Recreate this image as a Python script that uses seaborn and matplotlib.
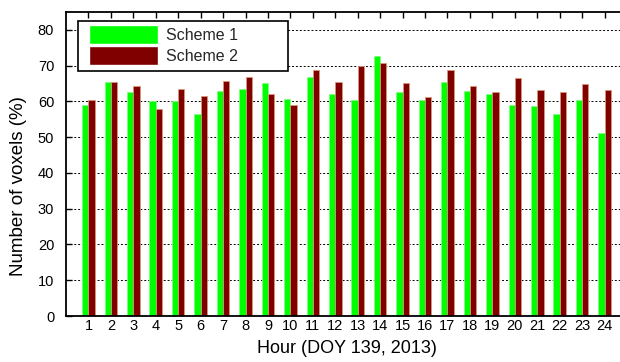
import matplotlib
matplotlib.use("Agg")
import matplotlib.pyplot as plt
from matplotlib.patches import Rectangle
from matplotlib.legend_handler import HandlerPatch
import pandas as pd
import seaborn as sns

# Hourly share of voxels for the two schemes (DOY 139, 2013)
hours = list(range(1, 25))
scheme1 = [58.9, 65.4, 62.7, 60.0, 60.0, 56.4, 62.8, 63.6, 65.2, 60.6, 66.9, 62.1,
           60.5, 72.6, 62.7, 60.5, 65.5, 63.0, 62.1, 59.1, 58.8, 56.6, 60.5, 51.3]
scheme2 = [60.3, 65.4, 64.2, 58.0, 63.6, 61.5, 65.7, 66.9, 62.1, 59.1, 68.7, 65.5,
           70.0, 70.8, 65.1, 61.2, 68.7, 64.2, 62.7, 66.6, 63.2, 62.7, 64.8, 63.2]
series_names = ["Scheme 1", "Scheme 2"]
yticks = [0, 10, 20, 30, 40, 50, 60, 70, 80]

fill_colors = ["#00ff00", "#800000"]
edge_colors = ["#80ff80", "#d89878"]

df = pd.DataFrame({
    "Hour": hours * 2,
    "Percent": scheme1 + scheme2,
    "Scheme": [series_names[0]] * len(hours) + [series_names[1]] * len(hours),
})

sns.set_theme(style="white")
plt.rcParams["font.family"] = ["Liberation Sans", "DejaVu Sans"]

fig = plt.figure(figsize=(6.2, 3.62), dpi=100)
ax = fig.add_axes([66 / 620, 46 / 362, 561 / 620, 304 / 362])

sns.barplot(data=df, x="Hour", y="Percent", hue="Scheme", order=hours,
            hue_order=series_names, palette=fill_colors, saturation=1,
            width=0.56, errorbar=None, ax=ax)

for cont, ec in zip(ax.containers, edge_colors):
    for bar in cont:
        bar.set_edgecolor(ec)
        bar.set_linewidth(0.6)

ax.set_xlim(-1.0, 24.0)
ax.set_ylim(0, 85)
ax.set_yticks(yticks)
ax.set_xticks(range(len(hours)))
ax.set_xticklabels([str(h) for h in hours])

# dotted horizontal grid
for y in yticks[1:]:
    ax.axhline(y, color="black", linestyle=(0, (2, 2)), linewidth=0.7, zorder=0.5)

for side in ["left", "bottom", "top", "right"]:
    ax.spines[side].set_visible(True)
    ax.spines[side].set_color("black")
    ax.spines[side].set_linewidth(1.3)

ax.tick_params(axis="x", direction="in", bottom=False, top=True, length=4,
               width=1, colors="black", labelsize=10.5, pad=2)
ax.tick_params(axis="y", direction="in", left=True, right=True, length=4,
               width=1, colors="black", labelsize=10.5, pad=8.5)

ax.set_xlabel("Hour (DOY 139, 2013)", fontsize=13, color="black", labelpad=5.5)
ax.set_ylabel("Number of voxels (%)", fontsize=13.5, color="black")
ax.yaxis.set_label_coords(-0.070, 0.428)


def inset_rect(legend, orig_handle, xdescent, ydescent, width, height, fontsize):
    # legend swatch shifted right inside its handle box, full box height
    shift = 3.5
    return Rectangle((-xdescent + shift, -ydescent - 1.5), width - shift, height + 3.0)


handles, labels = ax.get_legend_handles_labels()
if ax.get_legend() is not None:
    ax.get_legend().remove()
leg = ax.legend(handles, labels, loc="upper left",
                bbox_to_anchor=(12 / 561, 0.5, 210 / 561, 0.9714 - 0.5),
                mode="expand", borderaxespad=0, fontsize=11.5,
                handlelength=4.6, handleheight=1.05, handletextpad=0.5,
                borderpad=0.4, labelspacing=0.35, fancybox=False,
                framealpha=1, facecolor="white", edgecolor="black",
                handler_map={h: HandlerPatch(patch_func=inset_rect) for h in handles})
leg.get_frame().set_linewidth(1.2)

fig.savefig("out.png", dpi=100)
